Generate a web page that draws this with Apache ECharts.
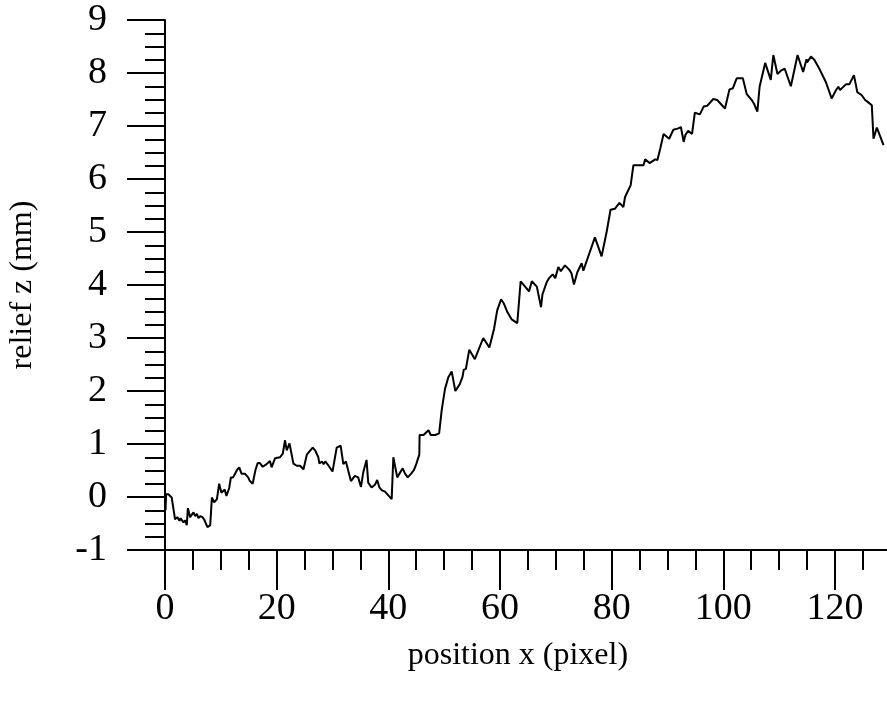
<!DOCTYPE html>
<html>
<head>
<meta charset="utf-8">
<script src="https://cdn.jsdelivr.net/npm/echarts@6/dist/echarts.min.js"></script>
<style>
  html, body { margin: 0; padding: 0; background: #fff; }
  #relief { width: 887px; height: 702px; }
</style>
</head>
<body>
<div id="relief"></div>
<script>
// profile: position x (pixel) and relief z (mm)
const posX = [
  0.0, 0.1, 0.2, 0.6, 1.2, 1.8, 2.2, 2.6, 2.8, 3.3, 3.6, 3.9, 4.1, 4.5, 4.7, 5.1, 5.4, 5.7, 6.0, 6.3,
  6.7, 7.0, 7.6, 8.1, 8.4, 8.8, 9.3, 9.7, 10.1, 10.4, 10.7, 11.0, 11.5, 11.8, 12.2, 12.5, 12.9, 13.3, 13.7, 14.3,
  14.9, 15.2, 15.7, 16.2, 16.6, 17.0, 17.5, 18.2, 18.8, 19.1, 19.7, 20.6, 21.1, 21.5, 21.8, 22.3, 23.0, 23.6, 24.2, 24.8,
  25.4, 26.45, 26.9, 27.46, 27.65, 28.1, 28.4, 28.7, 29.3, 30.0, 30.75, 31.46, 31.94, 32.4, 33.3, 34.0, 34.6, 35.1, 35.5, 36.1,
  36.4, 37.0, 37.6, 38.0, 38.4, 38.8, 39.4, 40.0, 40.6, 40.9, 41.6, 42.1, 42.57, 43.0, 43.47, 44.1, 44.4, 44.6, 45.0, 45.55,
  45.6, 46.3, 47.2, 47.6, 48.4, 49.1, 49.55, 50.15, 50.75, 51.35, 52.0, 52.8, 53.3, 53.5, 53.9, 54.5, 55.5, 57.0, 58.1, 58.93,
  59.5, 60.2, 60.7, 61.32, 62.1, 63.1, 63.7, 64.5, 65.2, 65.7, 66.6, 67.35, 67.6, 68.36, 68.8, 69.44, 69.9, 70.45, 70.9, 71.64,
  72.4, 72.8, 73.25, 73.85, 74.63, 74.93, 75.98, 77.0, 78.2, 79.1, 79.8, 80.6, 81.4, 82.1, 82.4, 82.8, 83.4, 83.9, 85.7, 86.0,
  86.8, 87.8, 88.2, 88.7, 89.3, 90.3, 91.05, 91.8, 92.4, 92.8, 92.9, 93.2, 93.7, 94.4, 94.9, 95.8, 96.5, 97.1, 98.2, 98.9,
  100.3, 101.1, 101.7, 102.4, 103.5, 104.2, 105.1, 105.5, 106.1, 106.5, 107.5, 108.5, 108.96, 109.7, 110.4, 111.0, 112.1, 113.3, 114.3, 114.9,
  115.0, 115.7, 116.3, 117.3, 118.4, 119.4, 120.2, 120.6, 120.9, 122.0, 122.6, 123.4, 124.0, 124.8, 125.4, 125.8, 126.6, 126.9, 127.5, 128.7
];
const reliefZ = [
  -0.10, -0.25, 0.05, 0.05, -0.01, -0.42, -0.38, -0.45, -0.40, -0.48, -0.44, -0.53, -0.21, -0.38, -0.40, -0.29, -0.36, -0.32, -0.40, -0.36,
  -0.38, -0.42, -0.57, -0.53, -0.01, -0.10, -0.04, 0.25, 0.08, 0.11, 0.14, 0.02, 0.17, 0.37, 0.37, 0.43, 0.51, 0.56, 0.44, 0.44,
  0.37, 0.30, 0.25, 0.51, 0.64, 0.64, 0.57, 0.62, 0.68, 0.56, 0.73, 0.75, 0.82, 1.07, 0.88, 1.01, 0.63, 0.59, 0.59, 0.52,
  0.80, 0.93, 0.88, 0.75, 0.63, 0.67, 0.62, 0.67, 0.59, 0.48, 0.93, 0.97, 0.62, 0.67, 0.30, 0.40, 0.37, 0.19, 0.46, 0.70,
  0.27, 0.18, 0.23, 0.32, 0.18, 0.13, 0.10, 0.03, -0.04, 0.75, 0.37, 0.46, 0.54, 0.44, 0.37, 0.44, 0.41, 0.51, 0.62, 0.80,
  1.17, 1.17, 1.26, 1.17, 1.17, 1.20, 1.63, 2.04, 2.26, 2.37, 2.00, 2.13, 2.27, 2.40, 2.42, 2.78, 2.60, 3.00, 2.82, 3.17,
  3.52, 3.73, 3.65, 3.49, 3.35, 3.28, 4.07, 3.97, 3.88, 4.07, 3.97, 3.58, 3.82, 4.05, 4.13, 4.20, 4.13, 4.34, 4.26, 4.37,
  4.29, 4.22, 4.01, 4.24, 4.41, 4.27, 4.59, 4.90, 4.54, 5.00, 5.42, 5.44, 5.55, 5.47, 5.66, 5.75, 5.88, 6.26, 6.26, 6.37,
  6.30, 6.37, 6.36, 6.57, 6.85, 6.76, 6.93, 6.95, 6.98, 6.76, 6.70, 6.83, 6.91, 6.85, 7.25, 7.22, 7.37, 7.38, 7.51, 7.49,
  7.33, 7.69, 7.71, 7.90, 7.90, 7.60, 7.49, 7.42, 7.27, 7.74, 8.19, 7.87, 8.34, 7.98, 8.05, 8.08, 7.75, 8.34, 8.02, 8.26,
  8.20, 8.31, 8.25, 8.06, 7.82, 7.52, 7.68, 7.74, 7.68, 7.79, 7.79, 7.96, 7.64, 7.58, 7.49, 7.46, 7.39, 6.76, 6.97, 6.64
];
const xMajorStep = 20;
const xMinorStep = 5;
const yRange = [-1, 9];

const font = 'Liberation Serif';
const ink = '#000';

const chart = echarts.init(document.getElementById('relief'), null, { renderer: 'canvas' });

const tickStyle = { color: ink, width: 2 };
const option = {
  animation: false,
  backgroundColor: '#fff',
  grid: { left: 165, top: 20, right: -3.8, bottom: 152, outerBoundsMode: 'none', containLabel: false },
  xAxis: [
    {
      type: 'value', min: 0, max: 130, interval: xMinorStep, position: 'bottom',
      axisLine: { onZero: false, lineStyle: tickStyle },
      axisTick: { length: 20, lineStyle: tickStyle },
      axisLabel: { show: false },
      splitLine: { show: false }
    },
    {
      type: 'value', min: 0, max: 130, interval: xMajorStep, position: 'bottom',
      axisLine: { show: false, onZero: false },
      axisTick: { length: 40, lineStyle: tickStyle },
      axisLabel: {
        margin: 40, fontFamily: font, fontSize: 38, color: ink,
        formatter: v => (v % xMajorStep === 0 ? String(v) : '')
      },
      splitLine: { show: false },
      name: 'position x (pixel)', nameLocation: 'middle', nameGap: 90,
      nameTextStyle: { fontFamily: font, fontSize: 32, color: ink, padding: [0, 20, 0, 0] }
    }
  ],
  yAxis: {
    type: 'value', min: yRange[0], max: yRange[1], interval: 1,
    axisLine: { onZero: false, lineStyle: tickStyle },
    axisTick: { length: 38, lineStyle: tickStyle },
    minorTick: { show: true, splitNumber: 4, length: 20, lineStyle: tickStyle },
    axisLabel: { margin: 58, fontFamily: font, fontSize: 38, color: ink },
    splitLine: { show: false },
    name: 'relief z (mm)', nameLocation: 'middle', nameGap: 126,
    nameTextStyle: { fontFamily: font, fontSize: 32, color: ink }
  },
  series: [{
    type: 'line',
    xAxisIndex: 0,
    yAxisIndex: 0,
    showSymbol: false,
    symbol: 'none',
    lineStyle: { color: ink, width: 2 },
    data: posX.map((x, i) => [x, reliefZ[i]])
  }]
};
chart.setOption(option);
</script>
</body>
</html>
